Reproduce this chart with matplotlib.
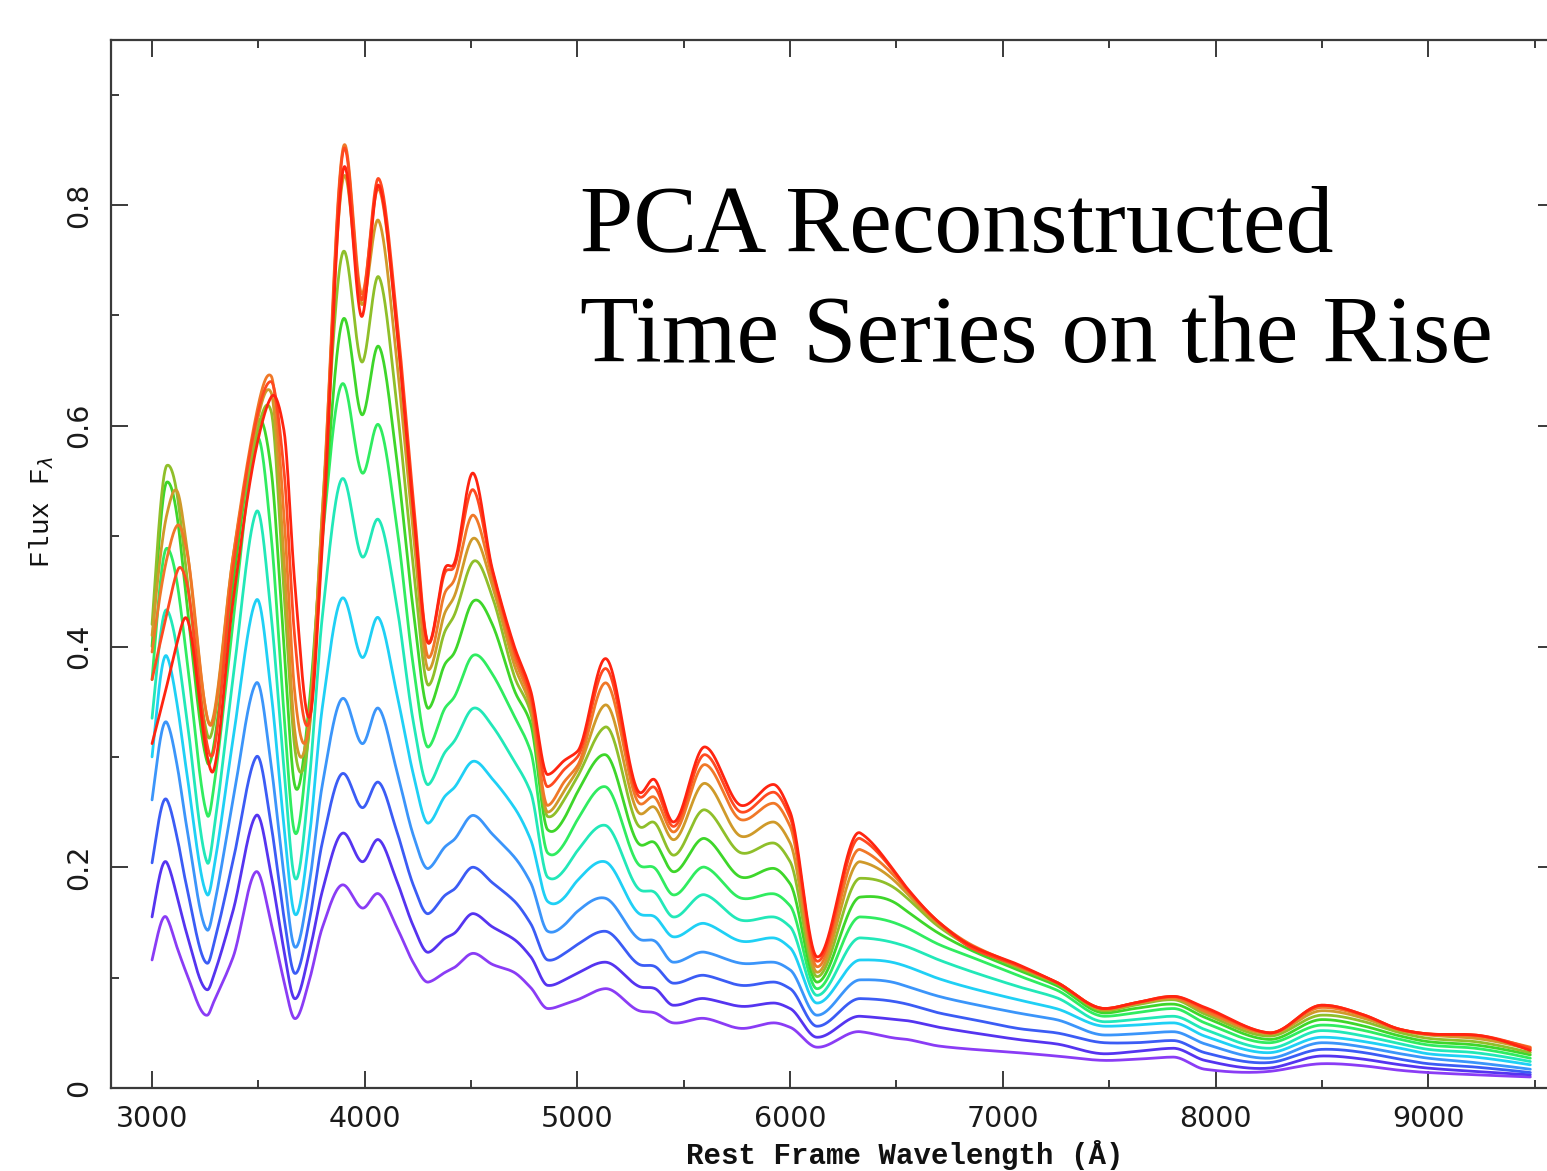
import numpy as np
import matplotlib
matplotlib.use("Agg")
import matplotlib.pyplot as plt
from matplotlib.ticker import MultipleLocator, FuncFormatter

# ---- data ----
wavelength = [3000, 3070, 3120, 3160, 3260, 3290, 3380, 3490, 3560, 3620,
              3670, 3740, 3800, 3900, 3990, 4065, 4150, 4230, 4300, 4380,
              4420, 4510, 4600, 4700, 4780, 4860, 4940, 5000, 5130, 5290,
              5365, 5450, 5600, 5770, 5920, 6000, 6125, 6330, 6500, 6550,
              6700, 6860, 7070, 7250, 7480, 7620, 7800, 7950, 8250, 8500,
              8700, 8870, 9000, 9220, 9480]

flux_0 = [0.116, 0.154, 0.126, 0.105, 0.066, 0.078, 0.118, 0.196, 0.149, 0.097,
          0.063, 0.098, 0.145, 0.184, 0.163, 0.176, 0.146, 0.113, 0.096, 0.105,
          0.109, 0.122, 0.112, 0.105, 0.091, 0.072, 0.076, 0.080, 0.090, 0.070,
          0.068, 0.059, 0.063, 0.054, 0.059, 0.055, 0.037, 0.051, 0.045, 0.044,
          0.038, 0.035, 0.032, 0.029, 0.025, 0.026, 0.028, 0.017, 0.015, 0.022,
          0.020, 0.016, 0.014, 0.012, 0.010]
flux_1 = [0.155, 0.204, 0.172, 0.142, 0.089, 0.102, 0.160, 0.247, 0.193, 0.125,
          0.081, 0.123, 0.178, 0.231, 0.205, 0.225, 0.188, 0.146, 0.123, 0.136,
          0.140, 0.158, 0.146, 0.135, 0.119, 0.093, 0.098, 0.104, 0.114, 0.092,
          0.090, 0.075, 0.081, 0.074, 0.077, 0.072, 0.046, 0.065, 0.062, 0.061,
          0.055, 0.050, 0.044, 0.040, 0.031, 0.033, 0.036, 0.025, 0.018, 0.029,
          0.026, 0.021, 0.018, 0.015, 0.012]
flux_2 = [0.204, 0.261, 0.225, 0.185, 0.113, 0.130, 0.205, 0.300, 0.238, 0.155,
          0.104, 0.152, 0.222, 0.285, 0.254, 0.277, 0.233, 0.183, 0.158, 0.175,
          0.180, 0.200, 0.186, 0.170, 0.149, 0.116, 0.122, 0.130, 0.142, 0.112,
          0.110, 0.095, 0.102, 0.093, 0.096, 0.090, 0.056, 0.081, 0.078, 0.076,
          0.068, 0.062, 0.054, 0.050, 0.041, 0.041, 0.043, 0.032, 0.023, 0.035,
          0.032, 0.026, 0.022, 0.019, 0.014]
flux_3 = [0.261, 0.331, 0.290, 0.240, 0.143, 0.163, 0.260, 0.367, 0.292, 0.193,
          0.128, 0.186, 0.274, 0.353, 0.312, 0.344, 0.288, 0.228, 0.199, 0.219,
          0.225, 0.247, 0.230, 0.210, 0.186, 0.142, 0.148, 0.160, 0.172, 0.135,
          0.133, 0.114, 0.123, 0.113, 0.114, 0.107, 0.066, 0.098, 0.095, 0.092,
          0.083, 0.076, 0.068, 0.062, 0.048, 0.049, 0.051, 0.040, 0.027, 0.041,
          0.037, 0.031, 0.027, 0.023, 0.017]
flux_4 = [0.300, 0.391, 0.345, 0.290, 0.175, 0.198, 0.315, 0.442, 0.358, 0.238,
          0.158, 0.228, 0.344, 0.444, 0.390, 0.426, 0.358, 0.283, 0.240, 0.265,
          0.272, 0.296, 0.280, 0.255, 0.225, 0.169, 0.173, 0.188, 0.205, 0.158,
          0.155, 0.137, 0.149, 0.133, 0.136, 0.127, 0.077, 0.116, 0.113, 0.110,
          0.099, 0.090, 0.080, 0.072, 0.056, 0.057, 0.059, 0.047, 0.032, 0.046,
          0.042, 0.036, 0.031, 0.028, 0.021]
flux_5 = [0.335, 0.433, 0.395, 0.340, 0.204, 0.232, 0.370, 0.522, 0.428, 0.290,
          0.191, 0.280, 0.426, 0.552, 0.481, 0.515, 0.438, 0.330, 0.275, 0.305,
          0.314, 0.344, 0.328, 0.297, 0.268, 0.191, 0.198, 0.215, 0.238, 0.180,
          0.177, 0.155, 0.175, 0.152, 0.155, 0.146, 0.084, 0.136, 0.131, 0.128,
          0.116, 0.105, 0.092, 0.082, 0.060, 0.062, 0.065, 0.053, 0.036, 0.052,
          0.047, 0.040, 0.035, 0.032, 0.024]
flux_6 = [0.370, 0.489, 0.455, 0.395, 0.247, 0.272, 0.420, 0.587, 0.500, 0.340,
          0.232, 0.330, 0.496, 0.638, 0.557, 0.601, 0.510, 0.380, 0.309, 0.345,
          0.354, 0.392, 0.375, 0.338, 0.305, 0.213, 0.222, 0.243, 0.273, 0.202,
          0.199, 0.175, 0.200, 0.172, 0.176, 0.165, 0.090, 0.155, 0.149, 0.145,
          0.130, 0.118, 0.102, 0.089, 0.065, 0.068, 0.072, 0.059, 0.041, 0.057,
          0.052, 0.044, 0.039, 0.036, 0.027]
flux_7 = [0.400, 0.549, 0.515, 0.445, 0.295, 0.310, 0.455, 0.600, 0.560, 0.400,
          0.275, 0.350, 0.500, 0.697, 0.610, 0.672, 0.570, 0.430, 0.344, 0.385,
          0.394, 0.441, 0.420, 0.362, 0.330, 0.234, 0.245, 0.268, 0.302, 0.221,
          0.222, 0.196, 0.226, 0.191, 0.199, 0.185, 0.096, 0.173, 0.167, 0.160,
          0.140, 0.124, 0.107, 0.093, 0.068, 0.072, 0.076, 0.064, 0.044, 0.062,
          0.056, 0.047, 0.042, 0.039, 0.030]
flux_8 = [0.420, 0.564, 0.535, 0.470, 0.320, 0.330, 0.475, 0.590, 0.613, 0.450,
          0.310, 0.325, 0.520, 0.758, 0.658, 0.735, 0.620, 0.470, 0.365, 0.415,
          0.428, 0.477, 0.445, 0.375, 0.340, 0.246, 0.262, 0.282, 0.327, 0.237,
          0.240, 0.211, 0.252, 0.213, 0.222, 0.205, 0.101, 0.190, 0.180, 0.172,
          0.146, 0.127, 0.109, 0.095, 0.070, 0.075, 0.080, 0.067, 0.047, 0.066,
          0.060, 0.050, 0.045, 0.042, 0.032]
flux_9 = [0.410, 0.520, 0.540, 0.495, 0.335, 0.338, 0.480, 0.600, 0.630, 0.480,
          0.325, 0.338, 0.520, 0.825, 0.710, 0.786, 0.660, 0.500, 0.379, 0.432,
          0.445, 0.498, 0.455, 0.385, 0.345, 0.250, 0.270, 0.288, 0.347, 0.249,
          0.254, 0.225, 0.276, 0.228, 0.241, 0.222, 0.105, 0.205, 0.186, 0.176,
          0.148, 0.128, 0.110, 0.096, 0.071, 0.076, 0.081, 0.069, 0.049, 0.070,
          0.063, 0.052, 0.048, 0.045, 0.035]
flux_10 = [0.395, 0.480, 0.510, 0.490, 0.335, 0.335, 0.480, 0.610, 0.645, 0.520,
           0.360, 0.330, 0.510, 0.853, 0.720, 0.815, 0.690, 0.520, 0.390, 0.450,
           0.460, 0.519, 0.462, 0.392, 0.350, 0.256, 0.278, 0.292, 0.367, 0.258,
           0.263, 0.232, 0.293, 0.243, 0.258, 0.237, 0.110, 0.216, 0.190, 0.179,
           0.150, 0.129, 0.111, 0.096, 0.072, 0.077, 0.082, 0.070, 0.050, 0.073,
           0.065, 0.053, 0.049, 0.047, 0.037]
flux_11 = [0.370, 0.430, 0.469, 0.460, 0.310, 0.305, 0.470, 0.605, 0.640, 0.560,
           0.410, 0.333, 0.500, 0.850, 0.715, 0.824, 0.700, 0.530, 0.403, 0.468,
           0.472, 0.542, 0.468, 0.398, 0.355, 0.273, 0.289, 0.300, 0.380, 0.264,
           0.272, 0.237, 0.302, 0.250, 0.268, 0.245, 0.115, 0.226, 0.193, 0.180,
           0.150, 0.126, 0.111, 0.096, 0.072, 0.077, 0.083, 0.072, 0.050, 0.075,
           0.066, 0.053, 0.049, 0.048, 0.036]
flux_12 = [0.312, 0.365, 0.405, 0.426, 0.300, 0.288, 0.440, 0.580, 0.626, 0.596,
           0.460, 0.336, 0.490, 0.833, 0.700, 0.818, 0.690, 0.520, 0.403, 0.472,
           0.475, 0.557, 0.470, 0.402, 0.360, 0.284, 0.297, 0.305, 0.389, 0.268,
           0.279, 0.241, 0.309, 0.256, 0.275, 0.250, 0.119, 0.231, 0.194, 0.181,
           0.150, 0.128, 0.112, 0.096, 0.072, 0.077, 0.083, 0.073, 0.050, 0.075,
           0.066, 0.053, 0.049, 0.048, 0.034]

series = [flux_0, flux_1, flux_2, flux_3, flux_4, flux_5, flux_6,
          flux_7, flux_8, flux_9, flux_10, flux_11, flux_12]
colors = ['#8a3cf5', '#5534f0', '#3b5cf5', '#3b95fa', '#1fd0f5', '#22e8b8',
          '#30ec60', '#3ed62a', '#8fbf2a', '#cf9a2a', '#f07828', '#ff4a20',
          '#ff2410']

x_ticks_major = [3000, 4000, 5000, 6000, 7000, 8000, 9000]
y_ticks_major = [0, 0.2, 0.4, 0.6, 0.8]
title_lines = ["PCA Reconstructed", "Time Series on the Rise"]


def smooth_line(x, y, xn):
    """Modified-Akima cubic curve through the read points, for drawing."""
    x = np.asarray(x, float)
    y = np.asarray(y, float)
    h = np.diff(x)
    d = np.diff(y) / h
    n = len(x)
    dm1 = 2 * d[0] - d[1]
    dm2 = 2 * dm1 - d[0]
    dp1 = 2 * d[-1] - d[-2]
    dp2 = 2 * dp1 - d[-1]
    dd = np.concatenate([[dm2, dm1], d, [dp1, dp2]])
    m = np.zeros(n)
    for i in range(n):
        a, b, c, e = dd[i], dd[i + 1], dd[i + 2], dd[i + 3]
        w1 = abs(e - c) + abs(e + c) / 2
        w2 = abs(b - a) + abs(b + a) / 2
        if w1 + w2 == 0:
            m[i] = 0.5 * (b + c)
        else:
            m[i] = (w1 * b + w2 * c) / (w1 + w2)
    idx = np.clip(np.searchsorted(x, xn) - 1, 0, n - 2)
    t = (xn - x[idx]) / h[idx]
    h00 = 2 * t**3 - 3 * t**2 + 1
    h10 = t**3 - 2 * t**2 + t
    h01 = -2 * t**3 + 3 * t**2
    h11 = t**3 - t**2
    return (h00 * y[idx] + h10 * h[idx] * m[idx]
            + h01 * y[idx + 1] + h11 * h[idx] * m[idx + 1])


W, H = 1547, 1171
fig = plt.figure(figsize=(W / 100, H / 100), dpi=100)
ax = fig.add_axes([111 / W, 1 - 1088 / H, (1555 - 111) / W, (1088 - 40) / H])

xs = np.linspace(wavelength[0], wavelength[-1], 3000)
for vals, col in zip(series, colors):
    ax.plot(xs, smooth_line(wavelength, vals, xs), color=col, lw=2.0,
            solid_capstyle='round')

ax.set_xlim(2807, 9596)
ax.set_ylim(0, 0.9495)

ax.set_xticks(x_ticks_major)
ax.xaxis.set_minor_locator(MultipleLocator(500))
ax.set_yticks(y_ticks_major)
ax.yaxis.set_minor_locator(MultipleLocator(0.1))
ax.yaxis.set_major_formatter(FuncFormatter(lambda v, p: '0' if abs(v) < 1e-9 else f'{v:.1f}'))

spine_col = '#3a3a3a'
for s in ax.spines.values():
    s.set_linewidth(1.6)
    s.set_color(spine_col)
ax.tick_params(which='both', direction='in', top=True, right=True,
               color=spine_col, width=1.4)
ax.tick_params(which='major', length=12)
ax.tick_params(which='minor', length=6)
ax.tick_params(axis='x', which='major', pad=12, labelsize=20.5,
               labelcolor='#1a1a1a')
ax.tick_params(axis='y', which='major', pad=13, labelsize=20.5,
               labelcolor='#1a1a1a', labelrotation=90)
for lab in ax.get_yticklabels():
    lab.set_verticalalignment('center')
    lab.set_horizontalalignment('right')

ax.set_xlabel('Rest Frame Wavelength (Å)', fontfamily='Liberation Mono',
              fontsize=21, color='#111111', fontweight='bold')
ax.xaxis.set_label_coords((905 - 111) / 1444, -(1140 - 1088) / 1048)
ax.set_ylabel(r'Flux F$_\lambda$', fontfamily='Liberation Mono',
              fontsize=20, color='#111111')
ax.yaxis.set_label_coords((56 - 111) / 1444, (1088 - 512) / 1048)

fig.text(580 / W, 1 - 252 / H, title_lines[0], fontfamily='Liberation Serif',
         fontsize=69, color='black', va='baseline', ha='left')
fig.text(580 / W, 1 - 362 / H, title_lines[1], fontfamily='Liberation Serif',
         fontsize=69, color='black', va='baseline', ha='left')

fig.savefig('out.png', dpi=100)
